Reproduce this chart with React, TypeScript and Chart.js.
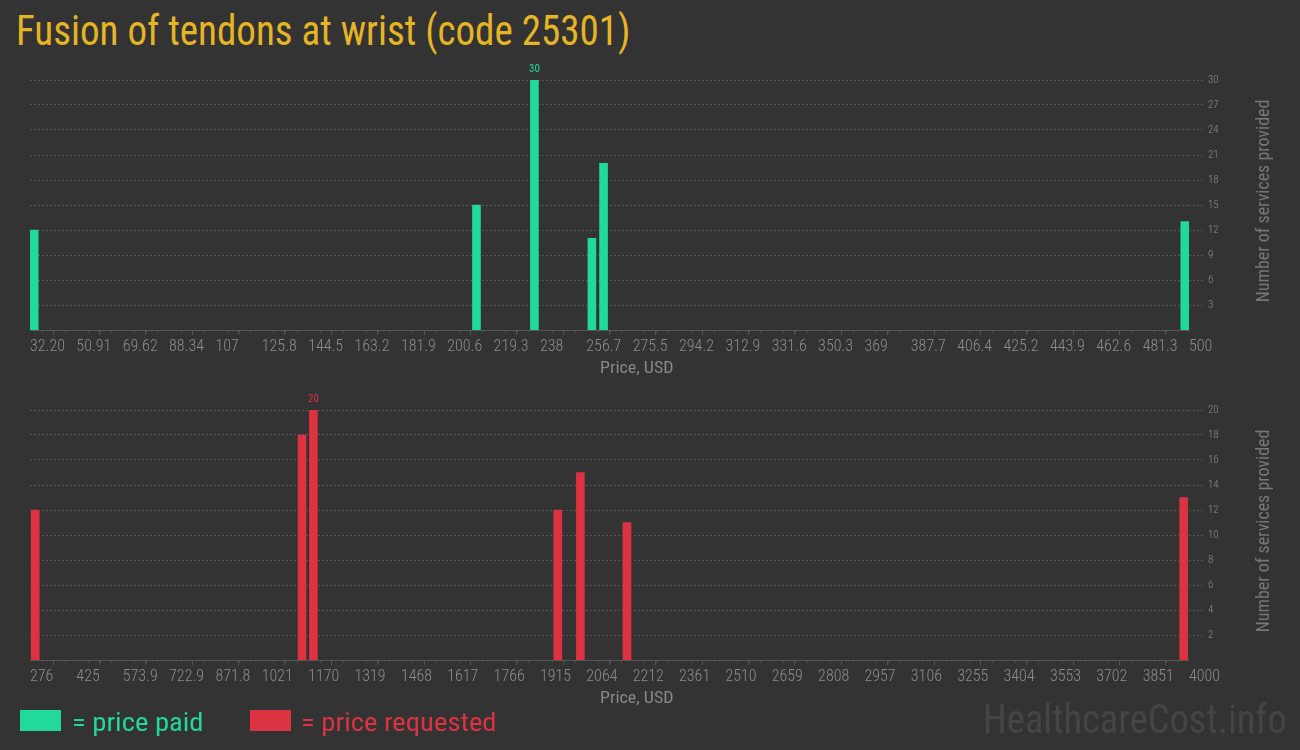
import React, { useEffect, useLayoutEffect, useRef } from "react";
import { Chart, registerables } from "chart.js";

Chart.register(...registerables);

// ---------- data ----------
const TITLE = "Fusion of tendons at wrist (code 25301)";
const Y_TITLE = "Number of services provided";
const X_TITLE = "Price, USD";
const WATERMARK = "HealthcareCost.info";
const LEGEND_PAID = "= price paid";
const LEGEND_REQUESTED = "= price requested";

const paidPrices = [33.9, 212.4, 235.8, 259.0, 263.7, 498.3];
const paidCounts = [12, 15, 30, 11, 20, 13];
const paidTickLabels = [
  "32.20", "50.91", "69.62", "88.34", "107", "125.8", "144.5", "163.2", "181.9",
  "200.6", "219.3", "238", "256.7", "275.5", "294.2", "312.9", "331.6", "350.3",
  "369", "387.7", "406.4", "425.2", "443.9", "462.6", "481.3", "500",
];
const paidYTicks = [3, 6, 9, 12, 15, 18, 21, 24, 27, 30];

const requestedPrices = [292.7, 1150, 1186.6, 1971.9, 2044.5, 2194.2, 3983];
const requestedCounts = [12, 18, 20, 12, 15, 11, 13];
const requestedTickLabels = [
  "276", "425", "573.9", "722.9", "871.8", "1021", "1170", "1319", "1468",
  "1617", "1766", "1915", "2064", "2212", "2361", "2510", "2659", "2808",
  "2957", "3106", "3255", "3404", "3553", "3702", "3851", "4000",
];
const requestedYTicks = [2, 4, 6, 8, 10, 12, 14, 16, 18, 20];

// ---------- styles ----------
const BG = "#333333";
const GREEN = "#21d99b";
const RED = "#dd3241";
const GOLD = "#e6b523";
const AXIS = "#555555";
const TICK_TEXT = "#8c8c8c";
const NARROW =
  '"Roboto Condensed", "Liberation Sans Narrow", "DejaVu Sans Condensed", sans-serif';
const ROBOTO = '"Roboto Condensed", Roboto, "Noto Sans", sans-serif';

const peakLabelPlugin = {
  id: "peakLabel",
  afterDatasetsDraw(chart: any, _args: any, opts: any) {
    const ds = chart.data.datasets[0];
    const values = ds.data.map((d: any) => d.y);
    const max = Math.max(...values);
    const idx = values.indexOf(max);
    const el = chart.getDatasetMeta(0).data[idx];
    if (!el) return;
    const ctx = chart.ctx;
    ctx.save();
    ctx.fillStyle = opts.color;
    ctx.font = `11px ${NARROW}`;
    ctx.textAlign = "center";
    ctx.textBaseline = "alphabetic";
    ctx.fillText(String(max), el.x, el.y - 8);
    ctx.restore();
  },
};

const minorTicksPlugin = {
  id: "minorTicks",
  afterDraw(chart: any, _args: any, opts: any) {
    const scale = chart.scales.x;
    const labels: string[] = opts.labels;
    const min = parseFloat(labels[0]);
    const max = parseFloat(labels[labels.length - 1]);
    const step = (max - min) / (labels.length - 1);
    const ctx = chart.ctx;
    const y = chart.chartArea.bottom;
    ctx.save();
    ctx.strokeStyle = AXIS;
    ctx.lineWidth = 1;
    ctx.beginPath();
    for (let i = 0; i < labels.length - 1; i++) {
      for (let k = 1; k < 4; k++) {
        const px = Math.round(scale.getPixelForValue(min + (i + k / 4) * step)) + 0.5;
        ctx.moveTo(px, y);
        ctx.lineTo(px, y + 2.5);
      }
    }
    ctx.stroke();
    ctx.restore();
  },
};

function buildConfig(
  prices: number[],
  counts: number[],
  tickLabels: string[],
  yTicks: number[],
  color: string
): any {
  const xMin = parseFloat(tickLabels[0]);
  const xMax = parseFloat(tickLabels[tickLabels.length - 1]);
  const step = (xMax - xMin) / (tickLabels.length - 1);
  return {
    type: "bar",
    data: {
      datasets: [
        {
          data: prices.map((p, i) => ({ x: p, y: counts[i] })),
          backgroundColor: color,
          borderWidth: 0,
          barThickness: 8,
        },
      ],
    },
    options: {
      animation: false,
      responsive: false,
      maintainAspectRatio: false,
      layout: { padding: { left: 30, top: 20, right: 0, bottom: 0 } },
      plugins: {
        legend: { display: false },
        tooltip: { enabled: false },
        title: { display: false },
        peakLabel: { color },
        minorTicks: { labels: tickLabels },
      },
      scales: {
        x: {
          type: "linear",
          min: xMin,
          max: xMax,
          offset: false,
          afterBuildTicks: (s: any) => {
            s.ticks = tickLabels.map((_, i) => ({ value: xMin + i * step }));
          },
          afterFit: (s: any) => {
            s.height = 50;
          },
          ticks: {
            autoSkip: false,
            maxRotation: 0,
            minRotation: 0,
            align: "start",
            padding: 2,
            color: TICK_TEXT,
            font: { family: NARROW, size: 16, weight: 300 },
            callback: (_v: any, i: number) => tickLabels[i],
          },
          grid: {
            drawOnChartArea: false,
            drawTicks: true,
            tickLength: 5,
            color: AXIS,
            tickColor: AXIS,
          },
          border: { display: true, color: AXIS, width: 1 },
        },
        y: {
          position: "right",
          min: 0,
          max: yTicks[yTicks.length - 1],
          afterBuildTicks: (s: any) => {
            s.ticks = yTicks.map((v) => ({ value: v }));
          },
          afterFit: (s: any) => {
            s.width = 111;
          },
          ticks: {
            color: TICK_TEXT,
            padding: 5,
            font: { family: NARROW, size: 11, weight: 300 },
            callback: (_v: any, i: number) => String(yTicks[i]),
          },
          grid: {
            color: AXIS,
            tickColor: AXIS,
            tickLength: 14,
            tickBorderDash: [2, 2],
          },
          border: { display: false, dash: [2, 2] },
        },
      },
    },
    plugins: [peakLabelPlugin, minorTicksPlugin],
  };
}

function BarChart(props: {
  top: number;
  prices: number[];
  counts: number[];
  tickLabels: string[];
  yTicks: number[];
  color: string;
}) {
  const ref = useRef<HTMLCanvasElement | null>(null);
  useEffect(() => {
    if (!ref.current) return;
    const chart = new Chart(
      ref.current,
      buildConfig(props.prices, props.counts, props.tickLabels, props.yTicks, props.color)
    );
    return () => chart.destroy();
  }, []);
  return (
    <div style={{ position: "absolute", left: 0, top: props.top, width: 1300, height: 320 }}>
      <canvas ref={ref} width={1300} height={320} style={{ width: 1300, height: 320, display: "block" }} />
    </div>
  );
}

// Text squeezed horizontally to a target width (the original uses a condensed face)
function FitText(props: {
  text: string;
  size: number;
  color: string;
  width: number;
  left: number;
  baseline?: number;
  centerY?: number;
  rotate?: boolean;
}) {
  const ref = useRef<HTMLSpanElement | null>(null);
  useLayoutEffect(() => {
    const el = ref.current;
    if (!el) return;
    const w = el.offsetWidth;
    const k = w > 0 ? props.width / w : 1;
    if (props.rotate) {
      el.style.transform = `translate(-50%, -50%) rotate(-90deg) scaleX(${k})`;
    } else {
      el.style.transform = `scaleX(${k})`;
    }
  }, []);
  const base: React.CSSProperties = {
    position: "absolute",
    whiteSpace: "nowrap",
    fontFamily: ROBOTO,
    fontSize: props.size,
    lineHeight: 1,
    color: props.color,
    display: "inline-block",
  };
  if (props.rotate) {
    return (
      <span
        ref={ref}
        style={{ ...base, left: props.left, top: props.centerY, transformOrigin: "center center" }}
      >
        {props.text}
      </span>
    );
  }
  const top = (props.baseline ?? 0) - 0.8415 * props.size;
  return (
    <span ref={ref} style={{ ...base, left: props.left, top, transformOrigin: "left top" }}>
      {props.text}
    </span>
  );
}

export default function App() {
  return (
    <div
      style={{
        position: "fixed",
        left: 0,
        top: 0,
        width: 1300,
        height: 750,
        background: BG,
        overflow: "hidden",
      }}
    >
      <FitText text={TITLE} size={42} color={GOLD} width={614} left={16} baseline={45} />

      <BarChart
        top={60}
        prices={paidPrices}
        counts={paidCounts}
        tickLabels={paidTickLabels}
        yTicks={paidYTicks}
        color={GREEN}
      />
      <BarChart
        top={390}
        prices={requestedPrices}
        counts={requestedCounts}
        tickLabels={requestedTickLabels}
        yTicks={requestedYTicks}
        color={RED}
      />

      <FitText text={X_TITLE} size={16} color="#888888" width={74} left={600} baseline={373} />
      <FitText text={X_TITLE} size={16} color="#888888" width={74} left={600} baseline={703} />

      <FitText text={Y_TITLE} size={18} color="#777777" width={203} left={1263} centerY={201} rotate />
      <FitText text={Y_TITLE} size={18} color="#777777" width={203} left={1263} centerY={531} rotate />

      <div style={{ position: "absolute", left: 20, top: 710, width: 41, height: 21, background: GREEN }} />
      <FitText text={LEGEND_PAID} size={26} color={GREEN} width={131} left={72} baseline={731} />
      <div style={{ position: "absolute", left: 250, top: 710, width: 41, height: 21, background: RED }} />
      <FitText text={LEGEND_REQUESTED} size={26} color={RED} width={196} left={301} baseline={731} />

      <FitText text={WATERMARK} size={41} color="#454545" width={304} left={983} baseline={734} />
    </div>
  );
}
